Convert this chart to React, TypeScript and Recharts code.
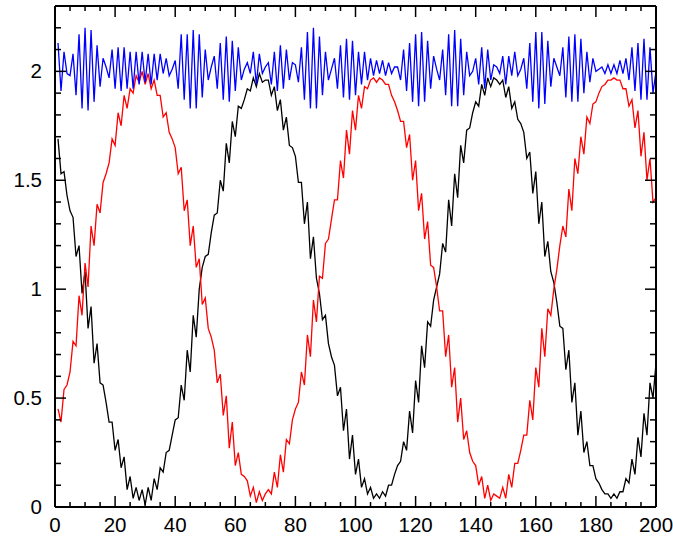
import React from 'react';
import { LineChart, Line, XAxis, YAxis } from 'recharts';

// values, x = 1..200
const BLACK = [
  1.69, 1.53, 1.54, 1.43, 1.36, 1.33, 1.15, 1.20, 0.98, 1.08,
  0.82, 0.92, 0.66, 0.75, 0.57, 0.56, 0.48, 0.39, 0.39, 0.26,
  0.31, 0.18, 0.23, 0.08, 0.14, 0.04, 0.09, 0.03, 0.08, 0.01,
  0.09, 0.03, 0.13, 0.08, 0.18, 0.16, 0.25, 0.26, 0.33, 0.40,
  0.41, 0.56, 0.49, 0.72, 0.62, 0.88, 0.78, 1.00, 1.10, 1.15,
  1.16, 1.26, 1.34, 1.35, 1.50, 1.45, 1.67, 1.58, 1.77, 1.70,
  1.84, 1.83, 1.87, 1.92, 1.91, 1.97, 1.93, 1.99, 1.95, 1.96,
  1.96, 1.89, 1.93, 1.82, 1.87, 1.73, 1.79, 1.66, 1.65, 1.61,
  1.49, 1.49, 1.30, 1.40, 1.14, 1.24, 1.05, 0.98, 0.86, 0.88,
  0.75, 0.69, 0.65, 0.51, 0.55, 0.35, 0.45, 0.22, 0.33, 0.15,
  0.22, 0.09, 0.13, 0.06, 0.09, 0.04, 0.06, 0.04, 0.07, 0.05,
  0.10, 0.10, 0.15, 0.19, 0.21, 0.30, 0.26, 0.44, 0.34, 0.58,
  0.48, 0.74, 0.64, 0.85, 0.83, 0.95, 1.01, 1.07, 1.21, 1.17,
  1.41, 1.29, 1.53, 1.42, 1.66, 1.58, 1.73, 1.74, 1.81, 1.86,
  1.84, 1.94, 1.89, 1.97, 1.93, 1.97, 1.96, 1.94, 1.96, 1.88,
  1.93, 1.83, 1.86, 1.78, 1.76, 1.72, 1.60, 1.63, 1.44, 1.54,
  1.30, 1.40, 1.15, 1.22, 1.08, 1.03, 0.94, 0.83, 0.82, 0.63,
  0.72, 0.48, 0.57, 0.33, 0.44, 0.25, 0.30, 0.19, 0.19, 0.13,
  0.11, 0.08, 0.06, 0.06, 0.04, 0.06, 0.04, 0.07, 0.07, 0.13,
  0.11, 0.22, 0.15, 0.32, 0.23, 0.43, 0.33, 0.57, 0.50, 0.66,
];

const RED = [
  0.45, 0.39, 0.54, 0.56, 0.62, 0.76, 0.74, 0.97, 0.88, 1.12,
  1.01, 1.29, 1.20, 1.39, 1.35, 1.49, 1.53, 1.58, 1.69, 1.66,
  1.81, 1.75, 1.89, 1.83, 1.92, 1.90, 1.98, 1.95, 2.00, 1.94,
  1.99, 1.92, 1.96, 1.89, 1.89, 1.79, 1.81, 1.72, 1.69, 1.65,
  1.53, 1.56, 1.36, 1.41, 1.20, 1.29, 1.10, 1.14, 0.93, 0.96,
  0.82, 0.78, 0.72, 0.57, 0.61, 0.42, 0.51, 0.27, 0.39, 0.19,
  0.25, 0.15, 0.14, 0.12, 0.05, 0.09, 0.02, 0.07, 0.03, 0.06,
  0.08, 0.06, 0.16, 0.09, 0.24, 0.16, 0.31, 0.29, 0.40, 0.45,
  0.48, 0.62, 0.56, 0.79, 0.69, 0.95, 0.85, 1.06, 1.05, 1.21,
  1.23, 1.32, 1.41, 1.41, 1.59, 1.51, 1.73, 1.62, 1.82, 1.73,
  1.89, 1.83, 1.93, 1.92, 1.96, 1.97, 1.95, 1.97, 1.96, 1.94,
  1.94, 1.89, 1.86, 1.82, 1.77, 1.77, 1.65, 1.71, 1.50, 1.59,
  1.36, 1.44, 1.23, 1.31, 1.11, 1.10, 1.01, 0.90, 0.90, 0.69,
  0.79, 0.55, 0.64, 0.39, 0.50, 0.31, 0.35, 0.25, 0.21, 0.19,
  0.10, 0.14, 0.04, 0.10, 0.03, 0.06, 0.05, 0.04, 0.09, 0.04,
  0.15, 0.09, 0.20, 0.20, 0.26, 0.33, 0.33, 0.49, 0.40, 0.64,
  0.55, 0.82, 0.69, 0.91, 0.88, 1.00, 1.09, 1.20, 1.29, 1.24,
  1.46, 1.36, 1.60, 1.53, 1.70, 1.62, 1.79, 1.76, 1.85, 1.86,
  1.90, 1.93, 1.94, 1.96, 1.96, 1.97, 1.96, 1.96, 1.92, 1.92,
  1.84, 1.87, 1.74, 1.82, 1.61, 1.72, 1.50, 1.60, 1.40, 1.42,
];

const BLUE = [
  2.13, 1.91, 2.09, 1.99, 1.98, 2.08, 1.89, 2.17, 1.83, 2.20,
  1.82, 2.19, 1.86, 2.12, 1.93, 2.06, 2.02, 1.97, 2.10, 1.92,
  2.11, 1.91, 2.11, 1.92, 2.09, 1.92, 2.09, 1.94, 2.09, 1.95,
  2.08, 1.94, 2.08, 1.96, 2.08, 1.99, 2.06, 1.98, 2.01, 2.05,
  1.92, 2.17, 1.87, 2.17, 1.83, 2.19, 1.83, 2.17, 1.88, 2.10,
  1.96, 2.02, 2.07, 1.92, 2.13, 1.87, 2.16, 1.86, 2.14, 1.91,
  2.11, 1.96, 2.01, 2.04, 1.99, 2.09, 1.94, 2.08, 1.99, 2.02,
  2.04, 1.94, 2.09, 1.91, 2.12, 1.92, 2.10, 1.96, 2.04, 2.03,
  1.95, 2.11, 1.87, 2.18, 1.83, 2.20, 1.83, 2.16, 1.89, 2.09,
  1.96, 2.01, 2.06, 1.92, 2.12, 1.88, 2.15, 1.87, 2.14, 1.89,
  2.09, 1.94, 2.09, 1.96, 2.06, 1.98, 2.05, 1.99, 2.05, 1.98,
  2.04, 1.99, 2.02, 2.02, 1.96, 2.10, 1.91, 2.13, 1.86, 2.17,
  1.84, 2.18, 1.86, 2.14, 1.92, 2.07, 2.01, 1.96, 2.10, 1.89,
  2.17, 1.84, 2.19, 1.84, 2.15, 1.89, 2.09, 1.98, 2.00, 2.06,
  1.94, 2.11, 1.92, 2.10, 1.96, 2.03, 2.02, 1.99, 2.07, 1.94,
  2.07, 1.98, 2.09, 1.98, 2.01, 2.06, 1.92, 2.13, 1.86, 2.18,
  1.83, 2.18, 1.85, 2.14, 1.93, 2.06, 2.02, 1.98, 2.11, 1.88,
  2.16, 1.86, 2.17, 1.86, 2.15, 1.90, 2.09, 1.95, 2.06, 2.00,
  2.01, 2.02, 1.99, 2.03, 1.99, 2.03, 1.99, 2.05, 1.99, 2.06,
  1.96, 2.11, 1.91, 2.13, 1.87, 2.15, 1.87, 2.11, 1.90, 2.00,
];

const X_LABELS = ['0', '20', '40', '60', '80', '100', '120', '140', '160', '180', '200'];
const Y_LABELS = ['0', '0.5', '1', '1.5', '2'];

const data = BLACK.map((b, i) => ({ x: i + 1, black: b, red: RED[i], blue: BLUE[i] }));

// tick positions: minor every 5 on x, every 0.1 on y
const xTicks = Array.from({ length: 41 }, (_, i) => i * 5);
const yTicks = Array.from({ length: 23 }, (_, i) => i / 10);
const FONT = '"Liberation Sans", Arial, sans-serif';
const FONT_SIZE = 20.5;

const isMajorX = (v: number) => v % 20 === 0;
const isMajorY = (v: number) => Math.round(v * 10) % 5 === 0;

const BottomTick = (props: any) => {
  const { x, y, payload } = props;
  const v = payload.value;
  const major = isMajorX(v);
  return (
    <g>
      <line x1={x} x2={x} y1={y} y2={y - (major ? 11 : 5)} stroke="#000" strokeWidth={1.5} />
      {major && (
        <text x={x} y={y + 25} textAnchor="middle" fontSize={FONT_SIZE} fontFamily={FONT} fill="#000">
          {X_LABELS[v / 20]}
        </text>
      )}
    </g>
  );
};

const TopTick = (props: any) => {
  const { x, y, payload } = props;
  const major = isMajorX(payload.value);
  return <line x1={x} x2={x} y1={y} y2={y + (major ? 11 : 5)} stroke="#000" strokeWidth={1.5} />;
};

const LeftTick = (props: any) => {
  const { x, y, payload } = props;
  const v = payload.value;
  const major = isMajorY(v);
  return (
    <g>
      <line x1={x} x2={x + (major ? 11 : 6)} y1={y} y2={y} stroke="#000" strokeWidth={1.5} />
      {major && (
        <text x={x - 13} y={y + 7} textAnchor="end" fontSize={FONT_SIZE} fontFamily={FONT} fill="#000">
          {Y_LABELS[Math.round(v * 2)]}
        </text>
      )}
    </g>
  );
};

const RightTick = (props: any) => {
  const { x, y, payload } = props;
  const major = isMajorY(payload.value);
  return <line x1={x} x2={x - (major ? 11 : 6)} y1={y} y2={y} stroke="#000" strokeWidth={1.5} />;
};

const axisLine = { stroke: '#000', strokeWidth: 2 };

export default function App() {
  return (
    <div style={{ position: 'absolute', left: 0, top: 0, background: '#fff' }}>
      <LineChart width={673} height={538} data={data} margin={{ top: 0, right: 0, bottom: 0, left: 0 }}>
        <XAxis
          dataKey="x"
          type="number"
          domain={[0, 200]}
          allowDataOverflow
          ticks={xTicks}
          interval={0}
          height={31}
          tickSize={0}
          tickMargin={0}
          tickLine={false}
          axisLine={axisLine}
          tick={<BottomTick />}
        />
        <XAxis
          xAxisId="t"
          orientation="top"
          dataKey="x"
          type="number"
          domain={[0, 200]}
          allowDataOverflow
          ticks={xTicks}
          interval={0}
          height={6}
          tickSize={0}
          tickMargin={0}
          tickLine={false}
          axisLine={axisLine}
          tick={<TopTick />}
        />
        <YAxis
          type="number"
          domain={[0, 2.3]}
          allowDataOverflow
          ticks={yTicks}
          interval={0}
          width={55}
          tickSize={0}
          tickMargin={0}
          tickLine={false}
          axisLine={axisLine}
          tick={<LeftTick />}
        />
        <YAxis
          yAxisId="r"
          orientation="right"
          type="number"
          domain={[0, 2.3]}
          allowDataOverflow
          ticks={yTicks}
          interval={0}
          width={17}
          tickSize={0}
          tickMargin={0}
          tickLine={false}
          axisLine={axisLine}
          tick={<RightTick />}
        />
        <Line type="linear" dataKey="black" stroke="#000000" strokeWidth={1.3} dot={false} isAnimationActive={false} />
        <Line type="linear" dataKey="red" stroke="#ff0000" strokeWidth={1.3} dot={false} isAnimationActive={false} />
        <Line type="linear" dataKey="blue" stroke="#0000ff" strokeWidth={1.3} dot={false} isAnimationActive={false} />
      </LineChart>
    </div>
  );
}
